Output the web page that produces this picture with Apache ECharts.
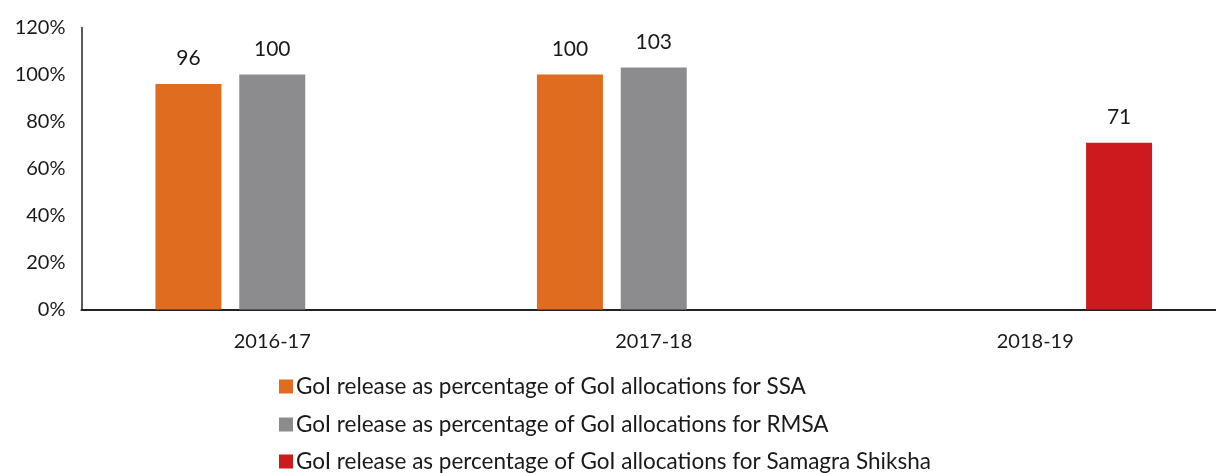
<!DOCTYPE html>
<html>
<head>
<meta charset="utf-8">
<script src="https://cdn.jsdelivr.net/npm/echarts@6/dist/echarts.min.js"></script>
<style>
  html, body { margin: 0; padding: 0; background: #fff; }
  #main { width: 1216px; height: 473px; }
</style>
</head>
<body>
<div id="main"></div>
<script>
const years = ['2016-17', '2017-18', '2018-19'];
const seriesNames = [
  'GoI release as percentage of GoI allocations for SSA',
  'GoI release as percentage of GoI allocations for RMSA',
  'GoI release as percentage of GoI allocations for Samagra Shiksha'
];
const ssa = [96, 100, null];
const rmsa = [100, 103, null];
const samagra = [null, null, 71];
const yTicks = [0, 20, 40, 60, 80, 100, 120];

const font = 'Lato';
const colors = ['#E06C20', '#8C8C8E', '#CD1A1F'];

const chart = echarts.init(document.getElementById('main'));

function barSeries(name, data, color) {
  return {
    name: name,
    type: 'bar',
    data: data,
    barWidth: 66,
    barGap: '27%',
    barCategoryGap: '38%',
    itemStyle: { color: color },
    label: {
      show: true,
      position: 'top',
      distance: 15,
      color: '#1a1a1a',
      fontFamily: font,
      fontSize: 21
    }
  };
}

// one legend per row so the last row can run off the bottom like the original
const legendRows = [387, 425, 462];
const legends = seriesNames.map(function (name, i) {
  return {
    left: 279,
    top: legendRows[i] - 12,
    padding: 0,
    itemWidth: 14,
    itemHeight: 14,
    icon: 'rect',
    textStyle: { fontFamily: font, fontSize: 22.5, color: '#1a1a1a', padding: [0, 0, 0, -2] },
    data: [name]
  };
});

const option = {
  animation: false,
  grid: {
    left: 81.5,
    width: 1144.5, // plot runs a little past the right edge of the picture
    top: 27.5,
    height: 282,
    outerBoundsMode: 'none'
  },
  legend: legends,
  xAxis: {
    type: 'category',
    data: years,
    axisLine: { lineStyle: { color: '#222', width: 2 } },
    axisTick: { show: false },
    axisLabel: { margin: 22, fontFamily: font, fontSize: 20, color: '#1a1a1a' }
  },
  yAxis: {
    type: 'value',
    min: yTicks[0],
    max: yTicks[yTicks.length - 1],
    interval: 20,
    axisLine: { show: true, lineStyle: { color: '#222', width: 1.5 } },
    axisTick: { show: false },
    splitLine: { show: false },
    axisLabel: {
      margin: 16,
      fontFamily: font,
      fontSize: 20,
      color: '#1a1a1a',
      formatter: '{value}%'
    }
  },
  series: [
    barSeries(seriesNames[0], ssa, colors[0]),
    barSeries(seriesNames[1], rmsa, colors[1]),
    barSeries(seriesNames[2], samagra, colors[2])
  ]
};

chart.setOption(option);
</script>
</body>
</html>
